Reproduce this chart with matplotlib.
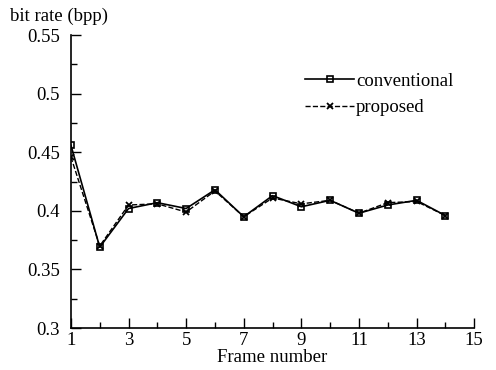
import matplotlib.pyplot as plt
from matplotlib.ticker import MultipleLocator

plt.rcParams["font.family"] = ["Liberation Serif", "DejaVu Serif"]

frames = [1, 2, 3, 4, 5, 6, 7, 8, 9, 10, 11, 12, 13, 14]
conventional = [0.456, 0.369, 0.402, 0.407, 0.402, 0.418, 0.395, 0.413,
                0.4035, 0.409, 0.398, 0.405, 0.409, 0.396]
proposed = [0.446, 0.370, 0.405, 0.406, 0.399, 0.417, 0.395, 0.411,
            0.406, 0.409, 0.398, 0.407, 0.408, 0.396]

fig = plt.figure(figsize=(4.96, 3.7), dpi=100)
ax = fig.add_axes([0.143, 0.1135, 0.813, 0.7915])

ax.plot(frames, conventional, "-", color="black", linewidth=1.2,
        marker="s", markersize=4.5, markerfacecolor="none",
        markeredgewidth=1.2, label="conventional")
ax.plot(frames, proposed, "--", color="black", linewidth=1.0,
        marker="x", markersize=5, markeredgewidth=1.3, label="proposed")

ax.set_xlim(1, 15)
ax.set_ylim(0.3, 0.55)
ax.set_xticks([1, 3, 5, 7, 9, 11, 13, 15])
ax.xaxis.set_minor_locator(MultipleLocator(1))
ax.set_yticks([0.3, 0.35, 0.4, 0.45, 0.5, 0.55])
ax.set_yticklabels(["0.3", "0.35", "0.4", "0.45", "0.5", "0.55"])
ax.yaxis.set_minor_locator(MultipleLocator(0.025))
ax.tick_params(axis="both", which="major", direction="in", length=7,
               labelsize=13.5, width=1)
ax.tick_params(axis="both", which="minor", direction="in", length=4, width=1)
ax.tick_params(axis="x", pad=3)
ax.tick_params(axis="y", pad=8)

ax.spines["top"].set_visible(False)
ax.spines["right"].set_visible(False)
ax.spines["left"].set_linewidth(1.2)
ax.spines["bottom"].set_linewidth(1.2)

ax.set_xlabel("Frame number", fontsize=13.5, labelpad=0)
fig.text(0.02, 0.955, "bit rate (bpp)", fontsize=13.5, ha="left", va="center")

ax.legend(loc="upper right", bbox_to_anchor=(0.99, 0.93), frameon=False,
          fontsize=13.5, handlelength=2.6, handletextpad=0.1, labelspacing=0.5)

fig.savefig("out.png", dpi=100)
